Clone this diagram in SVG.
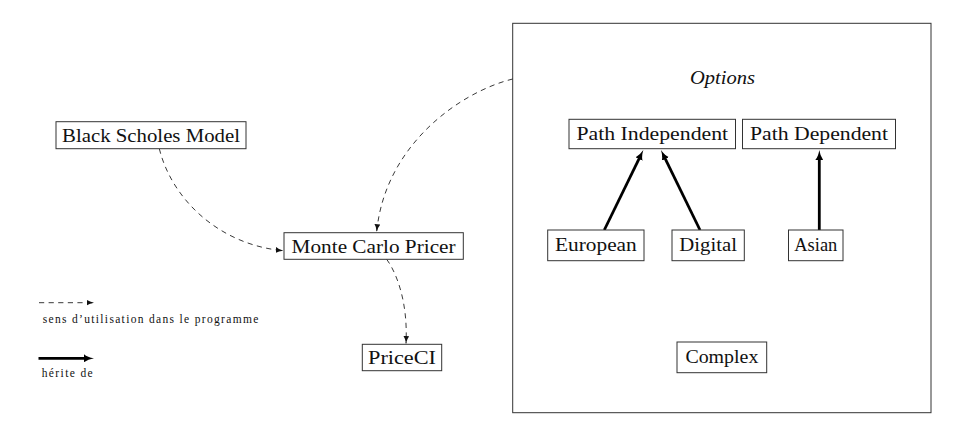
<svg xmlns="http://www.w3.org/2000/svg" width="971" height="442" viewBox="0 0 971 442">
<style>
.box{fill:#fff;stroke:#333;stroke-width:1}
.lbl{font-family:"Liberation Serif","Times New Roman",serif;font-size:19px;fill:#111;text-anchor:middle}
.ital{font-style:italic}
.small{font-family:"Liberation Serif","Times New Roman",serif;font-size:11.5px;fill:#111}
.dash{fill:none;stroke:#222;stroke-width:0.9;stroke-dasharray:5.2 4.4;marker-end:url(#hd)}
.thick{fill:none;stroke:#000;stroke-width:2.8;marker-end:url(#ht)}
</style>
<defs>
<marker id="hd" markerUnits="userSpaceOnUse" viewBox="0 0 7.5 6" refX="7.5" refY="3" markerWidth="7.5" markerHeight="6" orient="auto">
<path d="M0,0 Q2.7,2.2 7.5,3 Q2.7,3.8 0,6 Z" fill="#111"/>
</marker>
<marker id="ht" markerUnits="userSpaceOnUse" viewBox="0 0 10 8" refX="4" refY="4" markerWidth="10" markerHeight="8" orient="auto">
<path d="M0,0 Q3.5,3 10,4 Q3.5,5 0,8 Z" fill="#000"/>
</marker>
</defs>
<g id="options-container">
<rect class="box" x="512.7" y="23.3" width="418.3" height="389.4"/>
<text class="lbl ital" x="722.5" y="84" textLength="65" lengthAdjust="spacingAndGlyphs">Options</text>
</g>
<g id="connectors">
<path class="dash" d="M159.3,148.7 C172,200 220,245 283.3,250.7"/>
<path class="dash" d="M512.7,79 C460,92 385,145 376.7,231.7"/>
<path class="dash" d="M386.7,259.3 C398,275 408,305 406,343.5"/>
<line class="thick" x1="604.3" y1="230" x2="640.7" y2="155.4"/>
<line class="thick" x1="700" y1="230" x2="663.6" y2="155.4"/>
<line class="thick" x1="819.3" y1="230" x2="819.3" y2="156"/>
</g>
<g id="black-scholes">
<rect class="box" x="56" y="121.7" width="190" height="27"/>
<text class="lbl" x="151" y="141.7" textLength="178" lengthAdjust="spacingAndGlyphs">Black Scholes Model</text>
</g>
<g id="monte-carlo">
<rect class="box" x="284" y="232.7" width="179.3" height="26.6"/>
<text class="lbl" x="373.6" y="252.7" textLength="164" lengthAdjust="spacingAndGlyphs">Monte Carlo Pricer</text>
</g>
<g id="priceci">
<rect class="box" x="362.3" y="344.3" width="79.4" height="26.4"/>
<text class="lbl" x="402" y="364" textLength="68" lengthAdjust="spacingAndGlyphs">PriceCI</text>
</g>
<g id="path-independent">
<rect class="box" x="569" y="119.3" width="166.5" height="29.4"/>
<text class="lbl" x="652.3" y="140.3" textLength="151.6" lengthAdjust="spacingAndGlyphs">Path Independent</text>
</g>
<g id="path-dependent">
<rect class="box" x="742.5" y="119.3" width="153" height="29.4"/>
<text class="lbl" x="819" y="140.3" textLength="138" lengthAdjust="spacingAndGlyphs">Path Dependent</text>
</g>
<g id="european">
<rect class="box" x="547.7" y="230" width="96.3" height="30.7"/>
<text class="lbl" x="595.9" y="251" textLength="81.7" lengthAdjust="spacingAndGlyphs">European</text>
</g>
<g id="digital">
<rect class="box" x="672" y="230" width="72.3" height="30.7"/>
<text class="lbl" x="708.2" y="251" textLength="57.7" lengthAdjust="spacingAndGlyphs">Digital</text>
</g>
<g id="asian">
<rect class="box" x="788.5" y="230" width="54.5" height="30.7"/>
<text class="lbl" x="815.8" y="251" textLength="43" lengthAdjust="spacingAndGlyphs">Asian</text>
</g>
<g id="complex">
<rect class="box" x="677" y="342" width="89.7" height="30.7"/>
<text class="lbl" x="721.9" y="362.7" textLength="73" lengthAdjust="spacingAndGlyphs">Complex</text>
</g>
<g id="legend">
<line class="dash" x1="39" y1="302.7" x2="94" y2="302.7"/>
<text class="small" x="42.7" y="323.3" textLength="215.6" lengthAdjust="spacing">sens d’utilisation dans le programme</text>
<line class="thick" x1="38.5" y1="358.3" x2="88" y2="358.3"/>
<text class="small" x="41.7" y="377.3" textLength="51" lengthAdjust="spacing">hérite de</text>
</g>
</svg>
